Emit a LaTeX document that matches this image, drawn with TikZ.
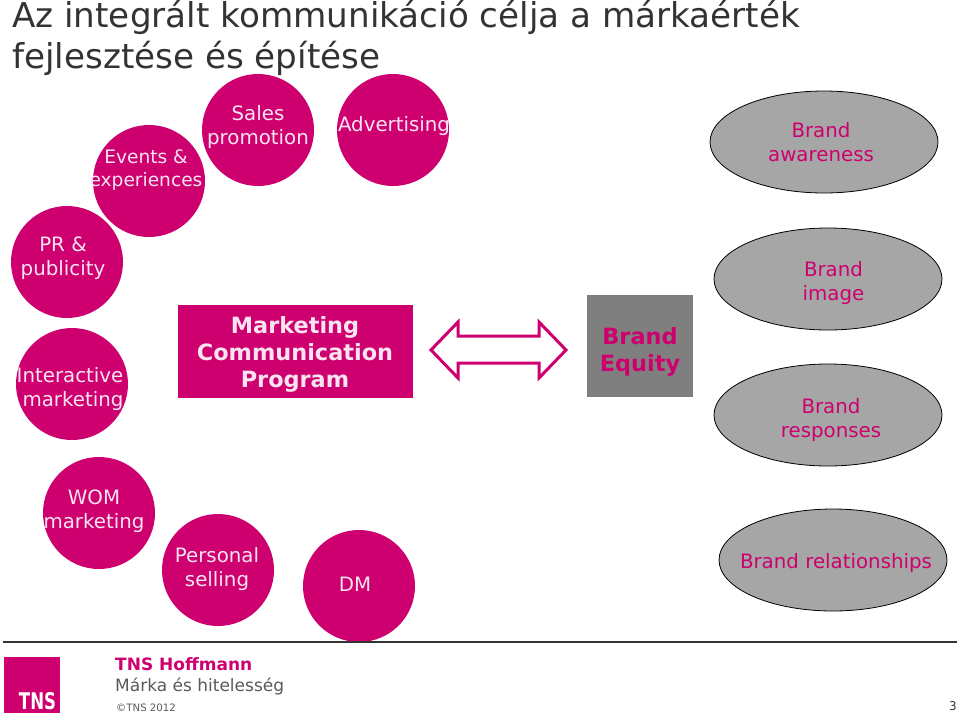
\documentclass[tikz,border=0pt]{standalone}
\usepackage{fontspec}
\setmainfont{DejaVu Sans}
\definecolor{tnspink}{HTML}{CE006F}
\definecolor{eqgray}{HTML}{7F7F7F}
\definecolor{ovalgray}{HTML}{A6A6A6}
\definecolor{titlegray}{HTML}{333333}
\definecolor{footgray}{HTML}{595959}
\definecolor{bubblewhite}{HTML}{F8E4F0}
\usetikzlibrary{shapes.geometric}
\tikzset{
	bubble/.style={circle, fill=tnspink, inner sep=0pt, minimum size=112pt},
	oval/.style={ellipse, draw=black, line width=0.8pt, fill=ovalgray, inner sep=0pt, minimum width=228pt, minimum height=102pt},
	bubbletext/.style={align=center, text=bubblewhite, font=\fontsize{19.8}{24}\selectfont, inner sep=0pt},
	ovaltext/.style={align=center, text=tnspink, font=\fontsize{19.8}{24}\selectfont, inner sep=0pt},
	boldtext/.style={align=center, text=tnspink, font=\fontsize{22.4}{27}\selectfont\bfseries, inner sep=0pt}
}
\begin{document}
\begin{tikzpicture}[x=1pt, y=-1pt]
	\useasboundingbox (0, 0) rectangle (960, 713);
	
	\node[anchor=north west, align=left, inner sep=0pt, text=titlegray, font=\fontsize{34.2}{40.5}\selectfont] (title) at (12, 0) {Az integrált kommunikáció célja a márkaérték\\fejlesztése és építése};
	
	\node[bubble] (events) at (149, 181) {};
	\node[bubble] (sales) at (258, 130) {};
	\node[bubble] (advertising) at (393, 130) {};
	\node[bubble] (pr) at (67, 262) {};
	\node[bubble] (interactive) at (72, 384) {};
	\node[bubble] (wom) at (99, 513) {};
	\node[bubble] (personal) at (218, 570) {};
	\node[bubble] (dm) at (359, 586) {};
	
	\node[bubbletext, font=\fontsize{18.6}{22.5}\selectfont] (eventstext) at (146, 170) {Events \&\\experiences};
	\node[bubbletext] (salestext) at (258, 127) {Sales\\promotion};
	\node[bubbletext] (advertisingtext) at (394, 126) {Advertising};
	\node[bubbletext] (prtext) at (63, 258) {PR \&\\publicity};
	\node[bubbletext] (interactivetext) at (70, 389) {Interactive\\\hspace*{6pt}marketing};
	\node[bubbletext] (womtext) at (94, 511) {WOM\\marketing};
	\node[bubbletext] (personaltext) at (217, 569) {Personal\\selling};
	\node[bubbletext] (dmtext) at (355, 584) {DM};
	
	\node[fill=tnspink, minimum width=235pt, minimum height=93pt, inner sep=0pt] (program) at (295, 351.5) {};
	\node[boldtext, text=bubblewhite] (programtext) at (295, 354.5) {Marketing\\Communication\\Program};
	
	\coordinate (A1) at (431, 350);
	\coordinate (A2) at (458, 322);
	\coordinate (A3) at (458, 336);
	\coordinate (A4) at (539, 336);
	\coordinate (A5) at (539, 322);
	\coordinate (A6) at (566, 350);
	\coordinate (A7) at (539, 378);
	\coordinate (A8) at (539, 363);
	\coordinate (A9) at (458, 363);
	\coordinate (A10) at (458, 378);
	\draw[tnspink, line width=3pt, line join=miter] (A1) -- (A2) -- (A3) -- (A4) -- (A5) -- (A6) -- (A7) -- (A8) -- (A9) -- (A10) -- cycle;
	
	\node[fill=eqgray, minimum width=106pt, minimum height=102pt, inner sep=0pt] (equity) at (640, 345.5) {};
	\node[boldtext] (equitytext) at (640, 352) {Brand\\Equity};
	
	\node[oval] (awareness) at (824, 142) {};
	\node[oval] (image) at (828, 279) {};
	\node[oval] (responses) at (828, 415) {};
	\node[oval] (relationships) at (833, 560) {};
	
	\node[ovaltext] (awarenesstext) at (821, 142) {Brand\\awareness};
	\node[ovaltext] (imagetext) at (833.5, 283) {Brand\\image};
	\node[ovaltext] (responsestext) at (831, 420) {Brand\\responses};
	\node[ovaltext] (relationshipstext) at (836, 563) {Brand relationships};
	
	\coordinate (L) at (3, 642);
	\coordinate (R) at (957, 642);
	\draw[titlegray, line width=1.2pt] (L) -- (R);
	
	\node[fill=tnspink, minimum width=56pt, minimum height=56pt, inner sep=0pt] (logo) at (32, 684.5) {};
	\node[text=white, font=\fontsize{23}{23}\selectfont\bfseries, inner sep=0pt] (logotext) at (37.5, 701) {\scalebox{0.72}[1]{TNS}};
	
	\node[anchor=west, text=tnspink, font=\fontsize{17}{20}\selectfont\bfseries, inner sep=0pt] (hoffmann) at (115, 664) {TNS Hoffmann};
	\node[anchor=west, text=footgray, font=\fontsize{17}{20}\selectfont, inner sep=0pt] (brand) at (115, 686) {Márka és hitelesség};
	\node[anchor=west, text=footgray, font=\fontsize{10.2}{13}\selectfont, inner sep=0pt] (copyright) at (116, 708) {©TNS 2012};
	\node[anchor=east, text=titlegray, font=\fontsize{12}{13}\selectfont, inner sep=0pt] (pagenum) at (957, 706) {3};
\end{tikzpicture}
\end{document}
